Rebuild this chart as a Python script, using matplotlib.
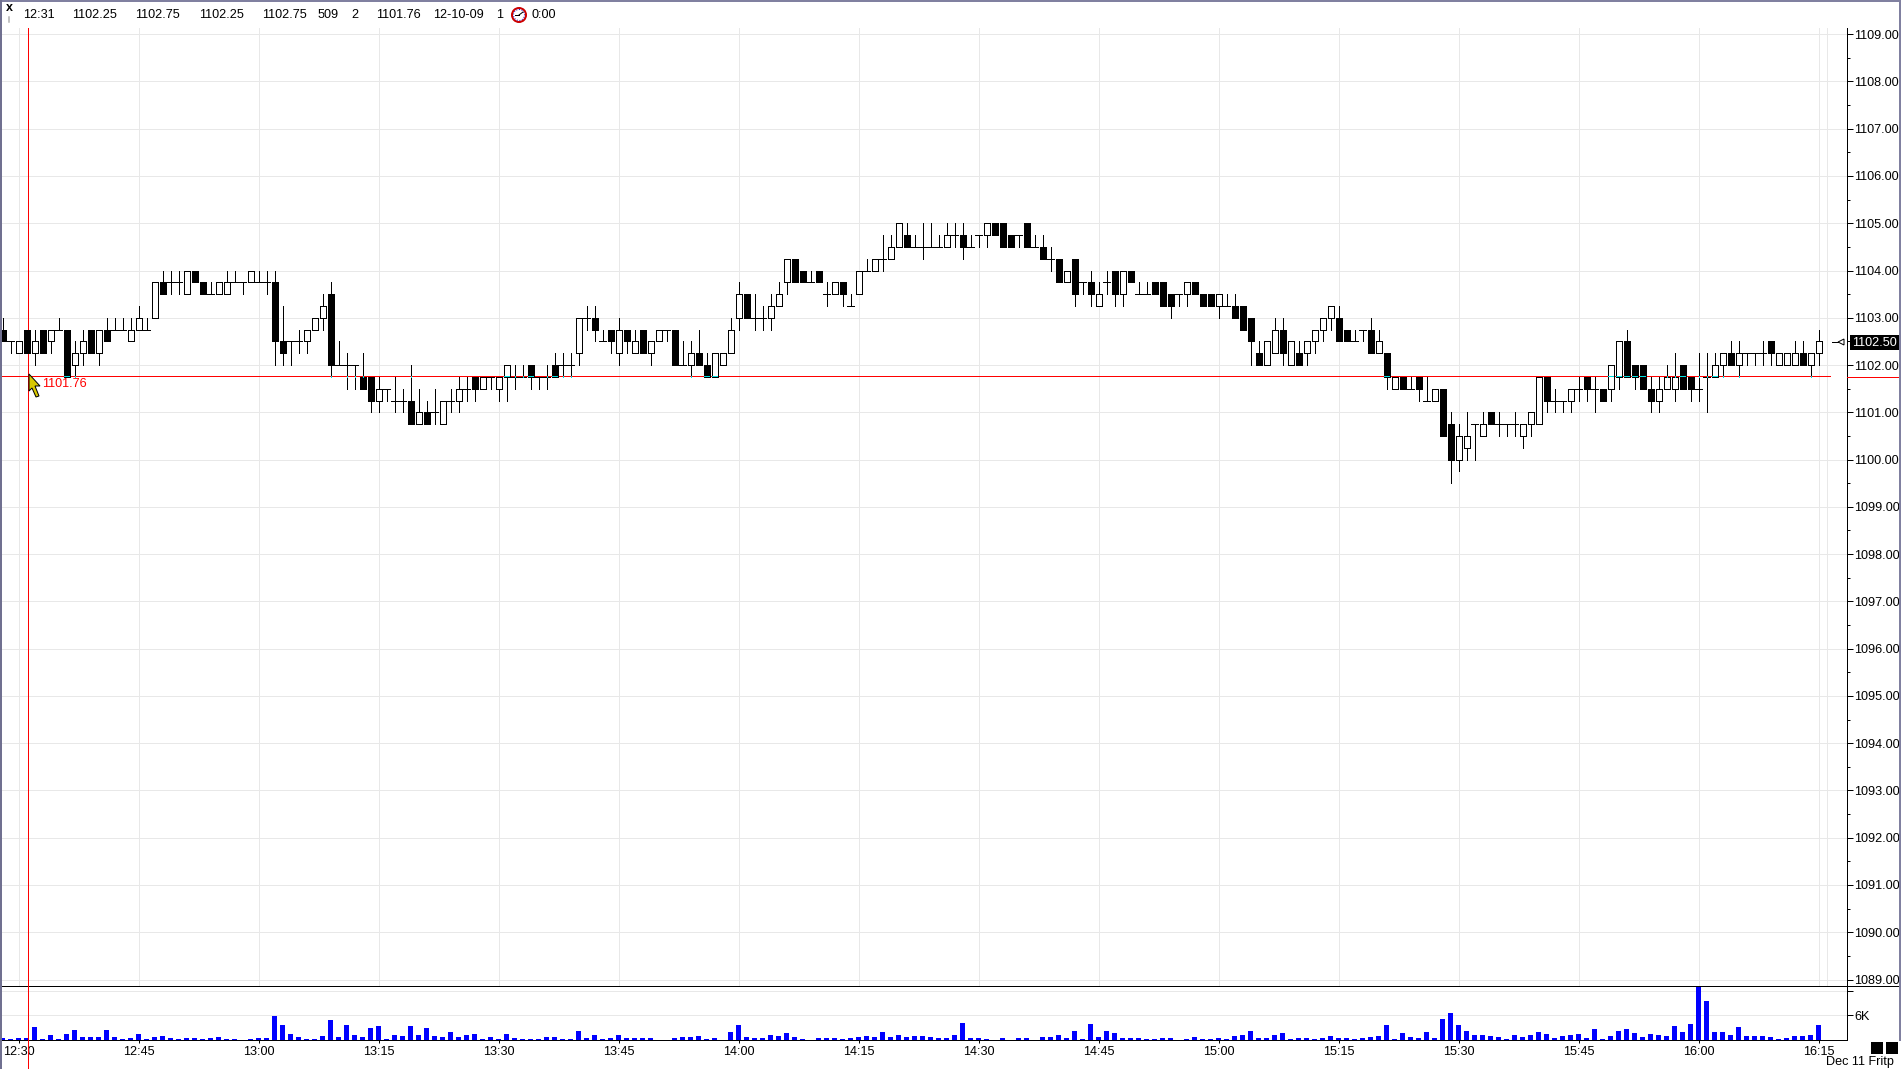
import matplotlib
matplotlib.use("Agg")
import matplotlib.pyplot as plt
from matplotlib.patches import Circle, Polygon, Rectangle

plt.rcParams['font.family'] = ['Liberation Sans', 'DejaVu Sans']

# prices are stored as offsets from base_price in 0.25 steps
base_price = 1100
opens = [2.75,2.5,2.25,2.75,2.25,2.75,2.5,2.75,2.75,2,
         2.25,2.75,2.25,2.75,2.75,2.75,2.5,2.75,2.75,3,
         3.75,3.75,3.75,3.5,4,3.75,3.5,3.5,3.5,3.75,
         3.75,3.75,3.75,3.75,3.75,2.5,2.5,2.5,2.5,2.75,
         3,3.5,2,2,2,1.75,1.75,1.25,1.5,1.25,
         1.25,1.25,.75,1,1,.75,1.25,1.25,1.5,1.75,
         1.5,1.75,1.5,1.75,1.75,1.75,2,1.75,1.75,2,
         2,2,2.25,3,3,2.5,2.75,2.25,2.75,2.25,
         2.75,2.25,2.5,2.75,2.75,2,2,2.25,2,1.75,
         2,2.25,3,3.5,3,3,3,3.25,3.75,4.25,
         4,3.75,4,3.5,3.5,3.75,3.25,3.5,4,4,
         4.25,4.25,4.5,4.75,4.5,4.5,4.5,4.5,4.5,4.75,
         4.75,4.5,4.75,4.75,5,5,4.75,4.75,5,4.5,
         4.5,4.25,4.25,3.75,4.25,3.75,3.75,3.25,3.75,4,
         3.5,4,3.5,3.5,3.75,3.75,3.5,3.5,3.5,3.75,
         3.5,3.5,3.25,3.25,3.25,3.25,3,2.25,2,2.25,
         2.75,2,2.25,2.25,2.5,2.75,3,3,2.75,2.5,
         2.75,2.75,2.25,2.25,1.5,1.75,1.5,1.75,1.25,1.25,
         1.5,.75,0,.25,.75,.5,1,.75,.75,.75,
         .5,.75,.75,1.75,1.25,1.25,1.25,1.5,1.75,1.5,
         1.5,1.5,1.75,2.5,2,2,1.5,1.25,1.5,1.5,
         2,1.75,1.5,1.75,1.75,2,2.25,2,2.25,2.25,
         2.25,2.5,2,2,2,2.25,2,2.25]
highs = [3,2.5,2.5,2.75,2.75,2.75,2.75,3,2.75,2.5,
         2.75,2.75,2.75,3,3,3,3,3.25,3,3.75,
         4,4,4,4,4,3.75,3.75,3.75,4,4,
         3.75,4,4,4,4,3.25,2.5,2.75,2.75,3,
         3.5,3.75,2.5,2.25,2,2.25,1.75,1.75,1.5,1.75,
         1.5,2,1.5,1.25,1.5,1.25,1.5,1.75,1.75,1.75,
         1.75,1.75,1.75,2,2,2,2,1.75,2,2.25,
         2.25,2.25,3,3.25,3.25,2.75,2.75,3,2.75,2.75,
         2.75,2.5,2.75,2.75,2.75,2.5,2.5,2.75,2.25,2.25,
         2.25,3,3.75,3.5,3.5,3.25,3.5,3.75,4.25,4.25,
         4,4,4,3.75,3.75,3.75,3.5,4,4.25,4.25,
         4.75,4.75,5,5,4.75,5,5,4.75,5,5,
         5,4.75,4.75,5,5,5,4.75,4.75,5,4.75,
         4.75,4.5,4.25,4,4.25,3.75,4,3.75,4,4,
         4,4,3.75,3.75,3.75,3.75,3.5,3.5,3.75,3.75,
         3.5,3.5,3.5,3.5,3.5,3.25,3,2.5,2.5,3,
         3,2.5,2.5,2.5,2.75,3,3.25,3.25,2.75,2.75,
         2.75,3,2.75,2.25,1.75,1.75,1.75,1.75,1.75,1.5,
         1.5,1,.75,1,.75,1,1,1,.75,1,
         .75,1,1.75,1.75,1.5,1.25,1.5,1.75,1.75,1.75,
         1.5,2,2.5,2.75,2,2,1.75,1.75,2,2.25,
         2,1.75,2.25,2.25,2.25,2.25,2.5,2.5,2.25,2.25,
         2.5,2.5,2.25,2.25,2.5,2.5,2.25,2.75]
lows = [2.5,2.25,2.25,2.25,2,2.25,2.25,2.75,1.75,1.75,
        2,2.25,2,2.5,2.75,2.75,2.5,2.75,2.75,3,
        3.5,3.5,3.5,3.5,3.75,3.5,3.5,3.5,3.5,3.75,
        3.5,3.75,3.75,3.5,2,2,2,2.25,2.25,2.75,
        2.75,1.75,2,1.5,1.5,1.5,1,1,1.25,1,
        1,.75,.75,.75,.75,.75,1,1,1.25,1.25,
        1.5,1.5,1.25,1.25,1.5,1.75,1.5,1.5,1.5,1.75,
        1.75,1.75,2,2.75,2.5,2.5,2.25,2,2.25,2.25,
        2.25,2,2.5,2.5,2,2,1.75,2,1.75,1.75,
        2,2.25,2.75,3,2.75,2.75,2.75,3.25,3.5,3.75,
        3.75,3.75,3.75,3.25,3.5,3.25,3.25,3.5,4,4,
        4,4.25,4.5,4.5,4.5,4.25,4.5,4.5,4.5,4.5,
        4.25,4.5,4.5,4.5,4.75,4.5,4.5,4.5,4.5,4.5,
        4.25,4,3.75,3.75,3.25,3.5,3.25,3.25,3.5,3.25,
        3.25,3.75,3.5,3.5,3.5,3.25,3,3.25,3.25,3.5,
        3.25,3.25,3,3.25,3,2.75,2,2,2,2.25,
        2,2,2,2,2.25,2.5,2.75,2.5,2.5,2.5,
        2.5,2.25,2.25,1.5,1.5,1.5,1.5,1.25,1.25,1.25,
        .5,-.5,-.25,0,0,.5,.75,.5,.5,.5,
        .25,.5,.75,1,1,1,1,1.25,1.25,1,
        1.25,1.25,1.5,1.75,1.5,1.5,1,1,1.5,1.25,
        1.5,1.25,1.25,1,1.75,1.75,2,1.75,2,2,
        2,2,2,2,2,2,1.75,2]
closes = [2.5,2.5,2.5,2.25,2.5,2.25,2.75,2.75,1.75,2.25,
          2.5,2.25,2.75,2.5,2.75,2.75,2.75,3,2.75,3.75,
          3.5,3.75,3.75,4,3.75,3.5,3.5,3.75,3.75,3.75,
          3.75,4,3.75,3.75,2.5,2.25,2.5,2.5,2.75,3,
          3.25,2,2,2,2,1.5,1.25,1.5,1.5,1.25,
          1.25,.75,1,.75,1,1.25,1.25,1.5,1.5,1.5,
          1.75,1.75,1.75,2,1.75,1.75,1.75,1.75,1.75,1.75,
          2,2,3,3,2.75,2.5,2.5,2.75,2.5,2.5,
          2.25,2.5,2.75,2.75,2,2,2.25,2,1.75,2.25,
          2.25,2.75,3.5,3,3,3,3.25,3.5,4.25,3.75,
          3.75,3.75,3.75,3.5,3.75,3.5,3.25,4,4,4.25,
          4.25,4.5,5,4.5,4.5,4.5,4.5,4.5,4.75,4.75,
          4.5,4.5,4.75,5,4.75,4.5,4.5,4.75,4.5,4.5,
          4.25,4.25,3.75,4,3.5,3.75,3.5,3.5,3.75,3.5,
          4,3.75,3.5,3.5,3.5,3.25,3.25,3.5,3.75,3.5,
          3.25,3.25,3.5,3.25,3,2.75,2.5,2,2.5,2.75,
          2.25,2.5,2,2.5,2.75,3,3.25,2.5,2.5,2.5,
          2.75,2.25,2.5,1.75,1.75,1.5,1.5,1.5,1.25,1.5,
          .5,0,.5,.5,.75,.75,.75,.75,.75,.75,
          .75,1,1.75,1.25,1.25,1.25,1.5,1.5,1.5,1.5,
          1.25,2,2.5,1.75,1.75,1.5,1.25,1.5,1.75,1.75,
          1.5,1.5,1.5,1.75,2,2.25,2,2.25,2.25,2.25,
          2.25,2.25,2.25,2.25,2.25,2,2.25,2.5]
volumes = [500,250,500,500,3250,250,1300,250,1550,2500,
           800,800,800,2500,800,250,500,1550,250,800,
           1050,500,250,500,500,250,500,800,250,250,
           0,250,500,500,5900,3750,1550,800,250,250,
           1050,4950,800,3750,1300,800,3000,3500,250,1300,
           1050,3500,1300,3000,1050,800,2000,800,1300,1550,
           250,800,250,1550,500,250,250,250,800,800,
           250,250,2250,500,1300,250,500,1300,500,500,
           500,500,0,0,500,800,800,1050,250,500,
           0,2000,3750,800,500,500,1300,1050,1800,800,
           250,0,500,500,500,250,500,800,1050,800,
           2000,800,1300,800,1050,1050,800,500,500,1300,
           4200,500,500,250,0,500,0,500,500,0,
           800,800,1300,500,2250,250,4000,800,2250,1800,
           500,500,500,250,250,500,500,0,250,800,
           250,250,500,250,1050,1300,2250,500,500,1300,
           1800,250,500,500,250,500,1050,500,500,250,
           500,800,1050,3750,250,1800,800,500,2000,500,
           5200,6650,3750,2250,1300,1300,1050,800,250,1300,
           800,1300,2000,1550,500,1050,1300,1550,500,2750,
           250,1050,2250,2750,1800,800,1550,1300,1050,3500,
           2000,4000,13000,9550,2000,2000,1300,3250,1050,1050,
           1050,800,250,500,1050,1050,1300,3750]

time_labels = ["12:30","12:45","13:00","13:15","13:30","13:45","14:00","14:15",
               "14:30","14:45","15:00","15:15","15:30","15:45","16:00","16:15"]
time_bars = [2,17,32,47,62,77,92,107,122,137,152,167,182,197,212,227]
price_ticks = list(range(1089, 1110))
vol_ticks = [6000, 12000]
vol_labels = ["6K", ""]
level = 1101.76
last_price = 1102.50
header_texts = ["12:31","1102.25","1102.75","1102.25","1102.75","509","2","1101.76","12-10-09","1","0:00"]
header_x = [23,72,135,199,262,318,351,376,433,496,531]

W, H = 1901, 1069
px = 0.72  # one pixel in points at dpi 100
GRID = "#e8e8e8"
FONT = 9.1


def axes_rect(x0, y0, x1, y1):
    return [x0 / W, 1 - y1 / H, (x1 - x0) / W, (y1 - y0) / H]


fig = plt.figure(figsize=(W / 100, H / 100), dpi=100, facecolor="white")
ax = fig.add_axes(axes_rect(0, 28, 1846.7, 986))
vax = fig.add_axes(axes_rect(0, 986, 1846.7, 1040))
over = fig.add_axes([0, 0, 1, 1])
over.set_xlim(0, W)
over.set_ylim(H, 0)
over.axis("off")
over.patch.set_alpha(0)

x_left = -2.7 / 8
x_right = (1846.7 - 2.7) / 8
ylow = 1089 - (986 - 979.5) / 47.265
yhigh = 1109 + (34.2 - 28) / 47.265

bars = list(range(len(opens)))
o = [base_price + v for v in opens]
h = [base_price + v for v in highs]
l = [base_price + v for v in lows]
c = [base_price + v for v in closes]

# grid first so everything sits on top of it
ax.hlines(price_ticks, x_left, x_right, color=GRID, lw=px, zorder=1, antialiased=False)
ax.vlines(time_bars + [228], ylow, yhigh, color=GRID, lw=px, zorder=1, antialiased=False)
ax.vlines((28.4 - 2.7) / 8, ylow, yhigh, color="red", lw=px, zorder=2, antialiased=False)
ax.hlines(level, x_left, (1830 - 2.7) / 8, color="red", lw=px, zorder=2, antialiased=False)

ax.vlines(bars, l, h, color="black", lw=px, zorder=3, antialiased=False)
for i in bars:
    if o[i] == c[i]:
        ax.hlines(o[i], i - 0.42, i + 0.42, color="black", lw=px, zorder=4, antialiased=False)
    else:
        bottom = min(o[i], c[i])
        face = "white" if c[i] > o[i] else "black"
        ax.bar(i, abs(c[i] - o[i]), bottom=bottom, width=0.72, facecolor=face,
               edgecolor="black", linewidth=px, zorder=4, antialiased=False)
    # cyan pixels where the level line runs through a bar
    body_lo, body_hi = min(o[i], c[i]), max(o[i], c[i])
    if body_lo < level < body_hi:
        ax.hlines(level, i - 0.3, i + 0.3, color="#00e0e0", lw=px, zorder=5, antialiased=False)
    elif l[i] < level < h[i]:
        ax.vlines(i, level - 0.012, level + 0.012, color="#00e0e0", lw=px, zorder=5, antialiased=False)

ax.set_xlim(x_left, x_right)
ax.set_ylim(ylow, yhigh)
ax.set_xticks([])
ax.yaxis.tick_right()
ax.set_yticks(price_ticks)
ax.set_yticklabels(["%.2f" % p for p in price_ticks], fontsize=FONT)
ax.set_yticks([p + 0.5 for p in price_ticks[:-1]], minor=True)
ax.tick_params(axis="y", which="major", length=4, width=px, pad=1.2)
ax.tick_params(axis="y", which="minor", length=2, width=px)
for s in ["top", "left", "bottom"]:
    ax.spines[s].set_visible(False)
ax.spines["right"].set_linewidth(px)

vax.hlines(vol_ticks, x_left, x_right, color=GRID, lw=px, zorder=1, antialiased=False)
vax.bar(bars, volumes, width=0.62, color="#0000ff", zorder=3, antialiased=False)
vax.set_xlim(x_left, x_right)
vax.set_ylim(0, 13135)
vax.set_xticks(time_bars)
vax.set_xticklabels(time_labels, fontsize=FONT)
vax.yaxis.tick_right()
vax.set_yticks(vol_ticks)
vax.set_yticklabels(vol_labels, fontsize=FONT)
vax.tick_params(axis="x", length=2, width=px, pad=2.5)
vax.tick_params(axis="y", length=4, width=px, pad=1.2)
for s in ["top", "left"]:
    vax.spines[s].set_visible(False)
vax.spines["right"].set_linewidth(px)
vax.spines["bottom"].set_linewidth(px)

# window furniture in pixel coordinates
over.plot([0, W], [986, 986], color="black", lw=px, antialiased=False)
over.plot([28.4, 28.4], [986, H], color="red", lw=px, antialiased=False)
over.plot([1846.7, W], [376.5, 376.5], color="red", lw=px, antialiased=False)
over.plot([0, W], [0.5, 0.5], color="#8080a0", lw=px * 2)
over.plot([0.5, 0.5], [0, H], color="#707090", lw=px * 2)
over.plot([1900, 1900], [0, 1040], color="#8080a0", lw=px * 2)

for txt, x in zip(header_texts, header_x):
    over.text(x, 15, txt, fontsize=FONT, va="center", ha="left", color="black")
over.text(6, 8, "x", fontsize=9, fontweight="bold", va="center", ha="left", color="black")
over.plot([9, 9], [17, 22], color="#b0b0b0", lw=px * 1.5)

over.add_patch(Circle((519, 15), 7, facecolor="white", edgecolor="#cc0000", lw=px * 2))
over.add_patch(Circle((519, 15), 5.5, facecolor="none", edgecolor="#2020d0", lw=px, ls=":"))
over.plot([519, 523], [15, 12], color="black", lw=px)
over.plot([519, 515], [15, 15], color="black", lw=px)

over.add_patch(Polygon([(29, 374), (40, 386), (35, 386), (39, 396), (36, 397), (32, 388), (29, 391)],
                       closed=True, facecolor="#d8c800", edgecolor="black", lw=px))
over.text(42, 384, "1101.76", color="red", fontsize=FONT, va="center", ha="left")

# last price tag
over.add_patch(Rectangle((1850, 335), 49, 15, facecolor="black", edgecolor="none", zorder=5))
over.text(1874.5, 342.5, "%.2f" % last_price, color="white", fontsize=FONT, va="center", ha="center", zorder=6)
over.plot([1832, 1838], [342, 342], color="black", lw=px)
over.add_patch(Polygon([(1838, 342), (1844, 339), (1844, 345)], closed=True,
                       facecolor="white", edgecolor="black", lw=px))

over.add_patch(Rectangle((1871, 1042), 12, 12, facecolor="black", edgecolor="none"))
over.add_patch(Rectangle((1885.5, 1042), 12, 12, facecolor="black", edgecolor="none"))
over.text(1826.5, 1062.5, "Dec 11 Fritp", fontsize=FONT, va="center", ha="left", color="black", clip_on=True)

fig.savefig("out.png", dpi=100)
